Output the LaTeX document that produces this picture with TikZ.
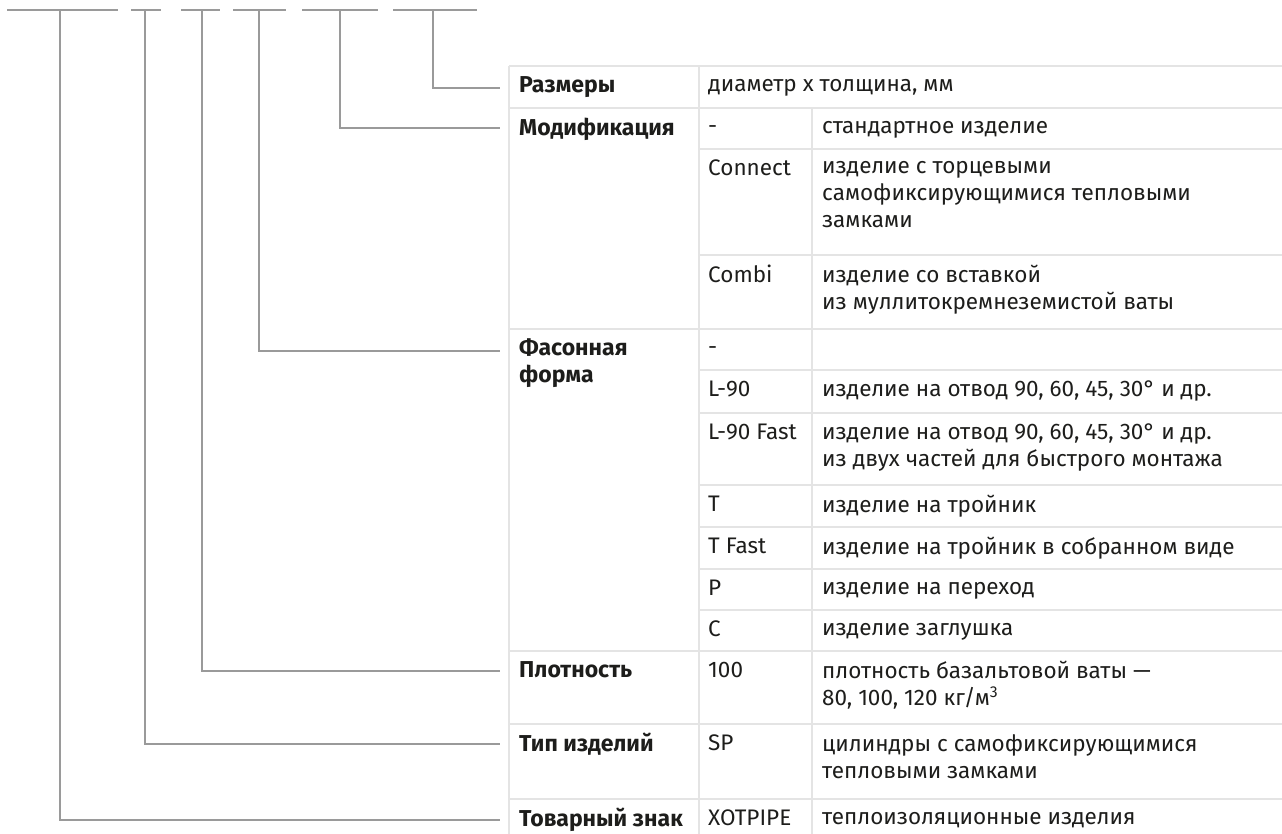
\documentclass[tikz,border=0pt]{standalone}
\usepackage{fontspec}
\setmainfont{Fira Sans}
\definecolor{connc}{HTML}{9A9A9A}
\definecolor{gridc}{HTML}{E4E4E4}
\definecolor{inkc}{HTML}{1D1D1B}
\newcommand{\cellstrut}{\rule[-0.3em]{0pt}{0.88em}}
\tikzset{
  connline/.style={draw=connc, line width=2.6pt},
  gridline/.style={draw=gridc, line width=2pt},
  cell/.style={anchor=west, inner sep=0pt, align=left, text=inkc,
    font=\fontsize{22.5}{27}\selectfont,
    execute at begin node=\cellstrut, execute at end node=\cellstrut},
  headcell/.style={cell, font=\fontsize{23}{27}\selectfont\bfseries},
}
\begin{document}
\begin{tikzpicture}[x=1pt,y=-1pt]
\useasboundingbox (0,0) rectangle (1282,834);
% ---------- table grid ----------
\draw[gridline] (509,66) -- (1282,66);
\draw[gridline] (509,66) -- (509,834);
\draw[gridline] (699,66) -- (699,834);
\draw[gridline] (812,108) -- (812,834);
\foreach \yy in {108,329,651,724,799} \draw[gridline] (509,\yy) -- (1282,\yy);
\foreach \yy in {149,255,370,413,485,527,569,610} \draw[gridline] (699,\yy) -- (1282,\yy);
% ---------- header cells ----------
\node[headcell] (h1) at (519,88) {Размеры};
\node[headcell] (h2) at (519,130) {Модификация};
\node[headcell] (h3) at (519,364.5) {Фасонная\\форма};
\node[headcell] (h4) at (519,673) {Плотность};
\node[headcell] (h5) at (519,746) {Тип изделий};
\node[headcell] (h6) at (519,821) {Товарный знак};
% ---------- codes ----------
\node[cell] (c1) at (708,88) {диаметр х толщина, мм};
\node[cell] (c2) at (708,130) {-};
\node[cell] (c3) at (708,171) {Connect};
\node[cell] (c4) at (708,277) {Combi};
\node[cell] (c5) at (708,351) {-};
\node[cell] (c6) at (708,392) {L-90};
\node[cell] (c7) at (708,435) {L-90 Fast};
\node[cell] (c8) at (708,507) {T};
\node[cell] (c9) at (708,549) {T Fast};
\node[cell] (c10) at (708,591) {P};
\node[cell] (c11) at (708,632) {C};
\node[cell] (c12) at (708,673) {100};
\node[cell] (c13) at (708,746) {SP};
\node[cell] (c14) at (708,821) {XOTPIPE};
% ---------- descriptions ----------
\node[cell] (d2) at (822,130) {стандартное изделие};
\node[cell] (d3) at (822,198) {изделие с торцевыми\\самофиксирующимися тепловыми\\замками};
\node[cell] (d4) at (822,290.5) {изделие со вставкой\\из муллитокремнеземистой ваты};
\node[cell] (d6) at (822,392) {изделие на отвод 90, 60, 45, 30° и др.};
\node[cell] (d7) at (822,448.5) {изделие на отвод 90, 60, 45, 30° и др.\\из двух частей для быстрого монтажа};
\node[cell] (d8) at (822,507) {изделие на тройник};
\node[cell] (d9) at (822,549) {изделие на тройник в собранном виде};
\node[cell] (d10) at (822,591) {изделие на переход};
\node[cell] (d11) at (822,632) {изделие заглушка};
\node[cell] (d12) at (822,686.5) {плотность базальтовой ваты —\\80, 100, 120 кг/м\textsuperscript{3}};
\node[cell] (d13) at (822,759.5) {цилиндры с самофиксирующимися\\тепловыми замками};
\node[cell] (d14) at (822,821) {теплоизоляционные изделия};
% ---------- code dashes ----------
\draw[connline] (7,10) -- (118,10);
\draw[connline] (131,10) -- (161,10);
\draw[connline] (181,10) -- (220,10);
\draw[connline] (233,10) -- (286,10);
\draw[connline] (302,10) -- (378,10);
\draw[connline] (393,10) -- (477,10);
\coordinate (t1) at (60,10);
\coordinate (t2) at (145,10);
\coordinate (t3) at (202,10);
\coordinate (t4) at (259,10);
\coordinate (t5) at (340,10);
\coordinate (t6) at (433,10);
\coordinate (e1) at (500,88);
\coordinate (e2) at (500,128);
\coordinate (e3) at (500,351);
\coordinate (e4) at (500,671);
\coordinate (e5) at (500,744);
\coordinate (e6) at (500,820);
% ---------- connectors ----------
\draw[connline] (t6) |- (e1);
\draw[connline] (t5) |- (e2);
\draw[connline] (t4) |- (e3);
\draw[connline] (t3) |- (e4);
\draw[connline] (t2) |- (e5);
\draw[connline] (t1) |- (e6);
\end{tikzpicture}
\end{document}
